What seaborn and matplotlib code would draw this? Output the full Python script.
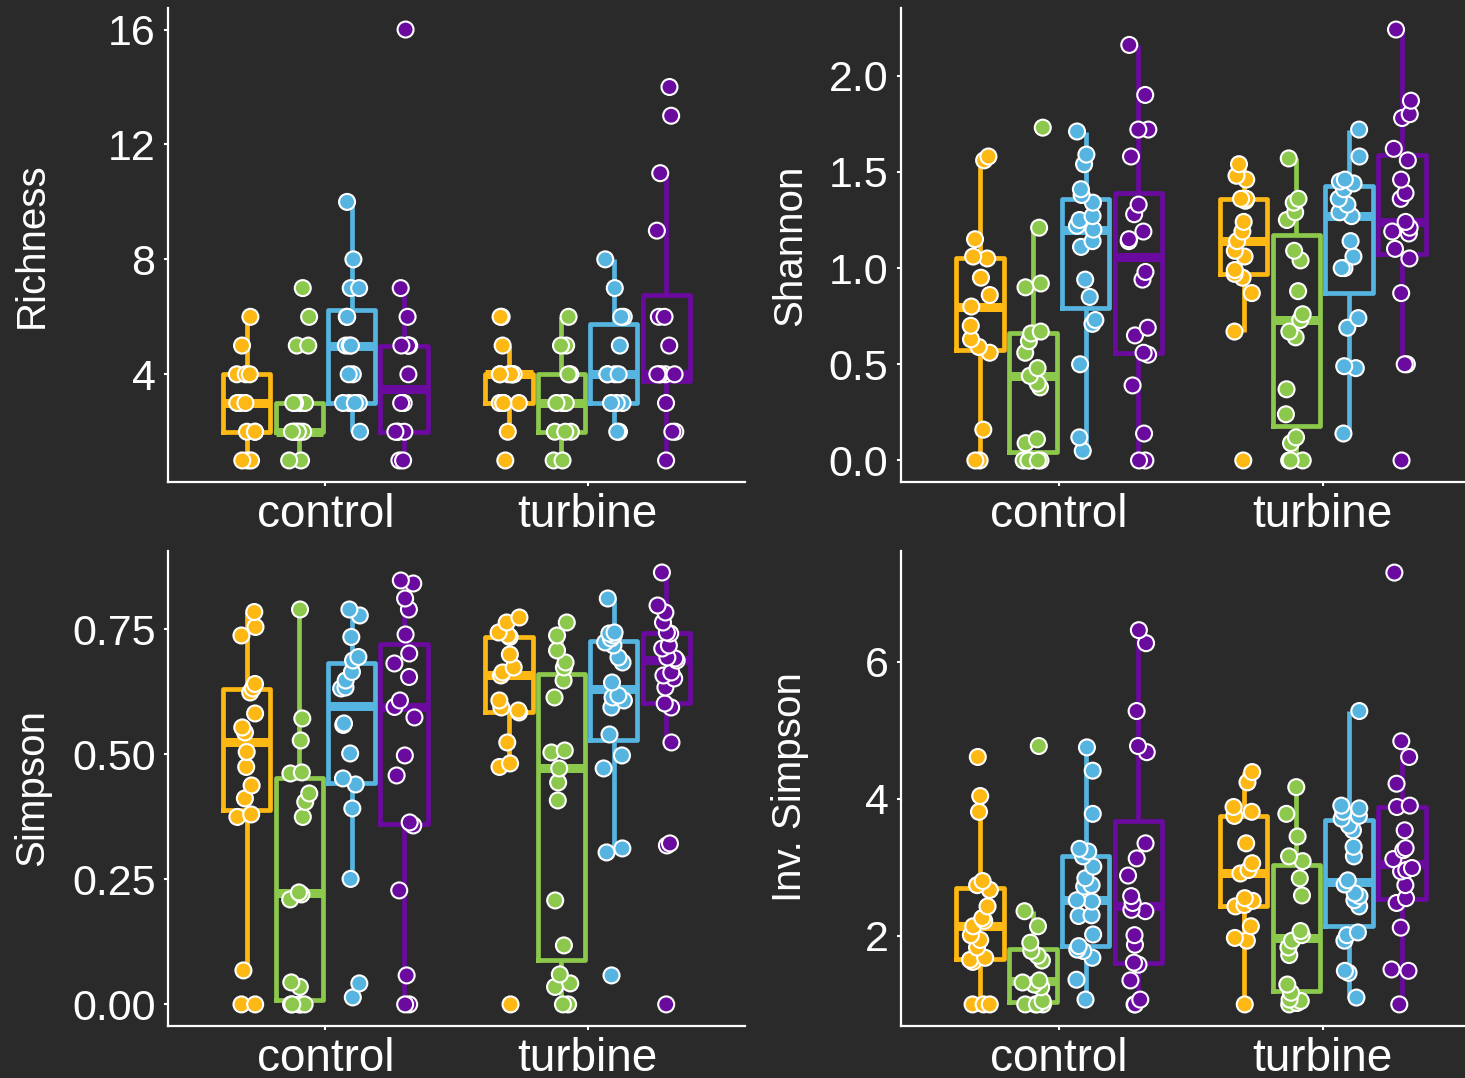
import numpy as np
import pandas as pd
import matplotlib
matplotlib.use("Agg")
import matplotlib.pyplot as plt
import seaborn as sns

# ---------------- data ----------------
sites = ["control", "turbine"]
groups = ["A", "B", "C", "D"]
palette = ["#FDB813", "#8CC84B", "#56B4E0", "#6A0A9E"]

richness_control = [
    [1, 1, 1, 2, 2, 2, 3, 3, 3, 3, 4, 4, 4, 5, 6],
    [1, 1, 2, 2, 2, 2, 2, 2, 2, 3, 3, 3, 3, 5, 5, 6, 7],
    [2, 3, 3, 3, 3, 4, 4, 5, 5, 5, 6, 6, 7, 7, 8, 10],
    [1, 1, 2, 2, 2, 2, 3, 3, 4, 5, 5, 5, 5, 6, 7, 16],
]
richness_turbine = [
    [1, 2, 3, 3, 3, 3, 4, 4, 4, 4, 4, 4, 4, 5, 6, 6],
    [1, 1, 2, 2, 2, 3, 3, 3, 4, 4, 5, 5, 6],
    [2, 2, 3, 3, 3, 4, 4, 4, 4, 5, 6, 6, 7, 8],
    [1, 2, 2, 3, 4, 4, 4, 4, 4, 5, 6, 6, 9, 11, 13, 14],
]

shannon_control = [
    [0, 0, 0.16, 0.56, 0.59, 0.63, 0.70, 0.80, 0.86, 0.95, 1.05, 1.06, 1.15, 1.56, 1.58],
    [0, 0, 0, 0, 0, 0.09, 0.11, 0.38, 0.40, 0.44, 0.48, 0.56, 0.62, 0.66, 0.67, 0.90, 0.92, 1.21, 1.73],
    [0.05, 0.12, 0.50, 0.71, 0.73, 0.85, 0.94, 1.11, 1.14, 1.20, 1.22, 1.25, 1.27, 1.34, 1.38, 1.41, 1.54, 1.59, 1.71],
    [0, 0, 0.14, 0.39, 0.55, 0.56, 0.65, 0.69, 0.94, 0.98, 1.14, 1.15, 1.19, 1.28, 1.33, 1.58, 1.72, 1.72, 1.90, 2.16],
]
shannon_turbine = [
    [0, 0.67, 0.87, 0.95, 0.97, 0.99, 1.06, 1.09, 1.14, 1.19, 1.24, 1.35, 1.36, 1.36, 1.46, 1.48, 1.54],
    [0, 0, 0, 0.09, 0.12, 0.24, 0.37, 0.64, 0.67, 0.73, 0.76, 0.88, 1.04, 1.09, 1.25, 1.29, 1.34, 1.36, 1.57],
    [0.14, 0.48, 0.49, 0.69, 0.74, 1.00, 1.00, 1.06, 1.14, 1.27, 1.29, 1.33, 1.36, 1.41, 1.44, 1.45, 1.46, 1.58, 1.72],
    [0, 0.50, 0.50, 0.87, 1.05, 1.10, 1.18, 1.19, 1.21, 1.24, 1.36, 1.39, 1.46, 1.56, 1.62, 1.78, 1.80, 1.87, 2.24],
]

simpson_control = [
    [0, 0, 0.068, 0.375, 0.38, 0.412, 0.438, 0.475, 0.505, 0.544, 0.554, 0.582, 0.624, 0.632, 0.641, 0.738, 0.755, 0.785],
    [0, 0, 0, 0, 0, 0.035, 0.044, 0.21, 0.22, 0.224, 0.375, 0.405, 0.422, 0.462, 0.464, 0.528, 0.572, 0.79],
    [0.014, 0.042, 0.251, 0.392, 0.44, 0.452, 0.502, 0.559, 0.562, 0.632, 0.634, 0.648, 0.665, 0.688, 0.695, 0.735, 0.778, 0.79],
    [0, 0, 0.058, 0.228, 0.358, 0.364, 0.458, 0.498, 0.574, 0.595, 0.608, 0.655, 0.682, 0.702, 0.74, 0.79, 0.812, 0.842, 0.848],
]
simpson_turbine = [
    [0, 0.475, 0.482, 0.524, 0.584, 0.588, 0.594, 0.608, 0.658, 0.664, 0.674, 0.70, 0.735, 0.738, 0.744, 0.764, 0.774],
    [0, 0, 0.035, 0.042, 0.06, 0.118, 0.208, 0.408, 0.444, 0.472, 0.504, 0.508, 0.614, 0.648, 0.674, 0.684, 0.708, 0.738, 0.764],
    [0.058, 0.304, 0.312, 0.472, 0.498, 0.54, 0.594, 0.608, 0.614, 0.618, 0.644, 0.684, 0.694, 0.718, 0.724, 0.732, 0.738, 0.742, 0.744, 0.812],
    [0, 0.318, 0.322, 0.524, 0.594, 0.602, 0.634, 0.652, 0.658, 0.664, 0.688, 0.692, 0.694, 0.712, 0.718, 0.742, 0.744, 0.764, 0.784, 0.798, 0.864],
]

invsimpson_control = [
    [1, 1, 1, 1.62, 1.65, 1.68, 1.83, 1.94, 2.01, 2.14, 2.22, 2.26, 2.43, 2.67, 2.74, 2.80, 3.81, 4.04, 4.61],
    [1, 1, 1, 1, 1.05, 1.25, 1.29, 1.32, 1.35, 1.64, 1.71, 1.78, 1.90, 2.14, 2.36, 4.77],
    [1.07, 1.36, 1.68, 1.78, 1.80, 1.85, 2.02, 2.29, 2.30, 2.50, 2.52, 2.72, 2.74, 2.84, 3.01, 3.16, 3.23, 3.27, 3.78, 4.41, 4.75],
    [1, 1, 1.07, 1.35, 1.58, 1.61, 1.87, 2.01, 2.36, 2.38, 2.48, 2.58, 2.88, 3.13, 3.35, 4.68, 4.77, 5.28, 6.27, 6.46],
]
invsimpson_turbine = [
    [1, 1.93, 1.97, 2.14, 2.43, 2.45, 2.51, 2.55, 2.91, 2.96, 3.06, 3.35, 3.75, 3.81, 3.88, 4.24, 4.39],
    [1, 1.02, 1.05, 1.07, 1.17, 1.29, 1.72, 1.83, 1.93, 2.01, 2.07, 2.59, 2.84, 3.09, 3.16, 3.45, 3.78, 4.17],
    [1.10, 1.46, 1.49, 1.93, 2.01, 2.05, 2.43, 2.52, 2.58, 2.62, 2.75, 2.81, 3.16, 3.30, 3.54, 3.61, 3.71, 3.75, 3.81, 3.86, 3.90, 5.28],
    [1, 1.49, 1.51, 2.12, 2.48, 2.55, 2.74, 2.94, 2.96, 2.99, 3.12, 3.25, 3.28, 3.54, 3.88, 3.90, 4.22, 4.61, 4.84, 7.30],
]

ylabels = ["Richness", "Shannon", "Simpson", "Inv. Simpson"]
richness_ticks = [4, 8, 12, 16]
shannon_ticks = [0.0, 0.5, 1.0, 1.5, 2.0]
simpson_ticks = [0.0, 0.25, 0.5, 0.75]
invsimpson_ticks = [2, 4, 6]

# ---------------- style ----------------
BG = "#2a2a2a"
plt.rcParams["font.family"] = ["Liberation Sans", "DejaVu Sans"]
np.random.seed(3)

W, H = 1465, 1078
fig = plt.figure(figsize=(W / 100, H / 100), dpi=100, facecolor=BG)


def to_frame(ctrl, turb):
    rows = []
    for site, data in zip(sites, (ctrl, turb)):
        for g, vals in zip(groups, data):
            for v in vals:
                rows.append((site, g, v))
    return pd.DataFrame(rows, columns=["site", "group", "value"])


def panel(rect, ctrl, turb, ticks, fmt, ylim, label, label_xy):
    ax = fig.add_axes(rect)
    ax.set_facecolor("none")
    df = to_frame(ctrl, turb)
    sns.boxplot(data=df, x="site", y="value", hue="group", order=sites,
                hue_order=groups, palette=palette, fill=False, width=0.8,
                gap=0.1, showfliers=False, showcaps=False, linewidth=3.4,
                medianprops=dict(linewidth=6.5), whis=1.5, legend=False, ax=ax)
    sns.stripplot(data=df, x="site", y="value", hue="group", order=sites,
                  hue_order=groups, palette=palette, dodge=True, jitter=0.16,
                  size=11.5, edgecolor="white", linewidth=1.5, legend=False,
                  ax=ax, zorder=4)
    ax.set_xlim(-0.6, 1.6)
    ax.set_ylim(*ylim)
    ax.set_yticks(ticks)
    ax.set_yticklabels([fmt.format(t) for t in ticks])
    ax.set_xlabel("")
    ax.set_ylabel("")
    for s in ["top", "right"]:
        ax.spines[s].set_visible(False)
    for s in ["left", "bottom"]:
        ax.spines[s].set_color("white")
        ax.spines[s].set_linewidth(1.6)
    ax.tick_params(axis="y", colors="white", labelsize=31, length=3, width=1.5, pad=6)
    ax.tick_params(axis="x", colors="white", labelsize=33, length=3, width=1.5, pad=5)
    fig.text(label_xy[0] / W, 1 - label_xy[1] / H, label, rotation=90,
             ha="center", va="center", color="white", fontsize=29)
    return ax


def rect(left, top, right, bottom):
    return [left / W, 1 - bottom / H, (right - left) / W, (bottom - top) / H]


panel(rect(168, 8, 745, 482), richness_control, richness_turbine,
      richness_ticks, "{:g}", (0.25, 16.75), ylabels[0], (32, 245))
panel(rect(901, 8, 1481, 482), shannon_control, shannon_turbine,
      shannon_ticks, "{:.1f}", (-0.112, 2.352), ylabels[1], (790, 245))
panel(rect(168, 551, 745, 1026), simpson_control, simpson_turbine,
      simpson_ticks, "{:.2f}", (-0.0432, 0.907), ylabels[2], (32, 787))
panel(rect(901, 551, 1481, 1026), invsimpson_control, invsimpson_turbine,
      invsimpson_ticks, "{:g}", (0.685, 7.615), ylabels[3], (790, 787))

fig.savefig("out.png", dpi=100, facecolor=BG)
